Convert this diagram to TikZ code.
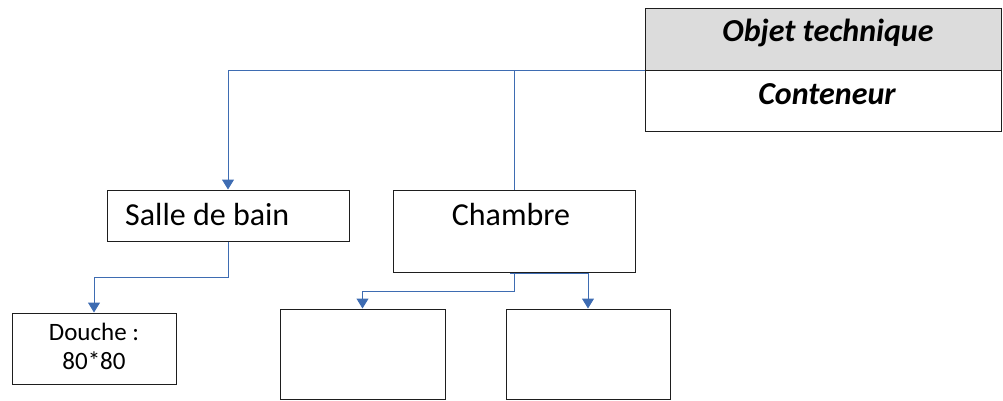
\documentclass[tikz,border=0pt]{standalone}
\usepackage{fontspec}
\setmainfont{Carlito}
\usetikzlibrary{arrows.meta}
\definecolor{hdrgray}{RGB}{220,220,220}
\definecolor{connblue}{RGB}{62,108,178}
\definecolor{boxline}{RGB}{30,30,30}
\begin{document}
\begin{tikzpicture}[x=1pt,y=-1pt,
  box/.style={draw=boxline,line width=1pt,inner sep=0pt,anchor=center},
  txt/.style={inner sep=0pt,anchor=center,font=\fontsize{32}{38}\selectfont},
  conn/.style={draw=connblue,line width=1pt},
  arr/.style={conn,-{Triangle[width=12pt,length=10pt]}}]
\useasboundingbox (0,0) rectangle (1003,400);
% boxes
\node[box,fill=hdrgray,minimum width=356pt,minimum height=62pt] (obj) at (823,39) {};
\node[box,minimum width=356pt,minimum height=61pt] (cont) at (823,100.5) {};
\node[box,minimum width=242pt,minimum height=51pt] (salle) at (228,215.5) {};
\node[box,minimum width=242pt,minimum height=82pt] (chambre) at (514,231) {};
\node[box,minimum width=164pt,minimum height=71pt] (douche) at (94,348.5) {};
\node[box,minimum width=165pt,minimum height=90pt] (e1) at (362.5,354) {};
\node[box,minimum width=164pt,minimum height=90pt] (e2) at (588,354) {};
% texts
\node[txt,font=\fontsize{32}{38}\selectfont\bfseries\itshape] (tobj) at (828,33) {Objet technique};
\node[txt,font=\fontsize{32}{38}\selectfont\bfseries\itshape] (tcont) at (827,94) {Conteneur};
\node[txt,anchor=west] (tsalle) at (125,214) {Salle de bain};
\node[txt] (tchambre) at (511,214) {Chambre};
\node[txt,font=\fontsize{25}{29}\selectfont,align=center] (tdouche) at (94,346) {Douche :\\80*80};
% connectors
\draw[arr] (obj.south west) -| (salle.north);
\draw[conn] (chambre.north) |- (obj.south west);
\draw[arr] (salle.south) -- ++(0,36) -| (douche.north);
\draw[arr] (chambre.south) -- ++(0,19) -| (e1.north);
\draw[arr] ([xshift=-4pt,yshift=-1pt]chambre.south) -| (e2.north);
\end{tikzpicture}
\end{document}
